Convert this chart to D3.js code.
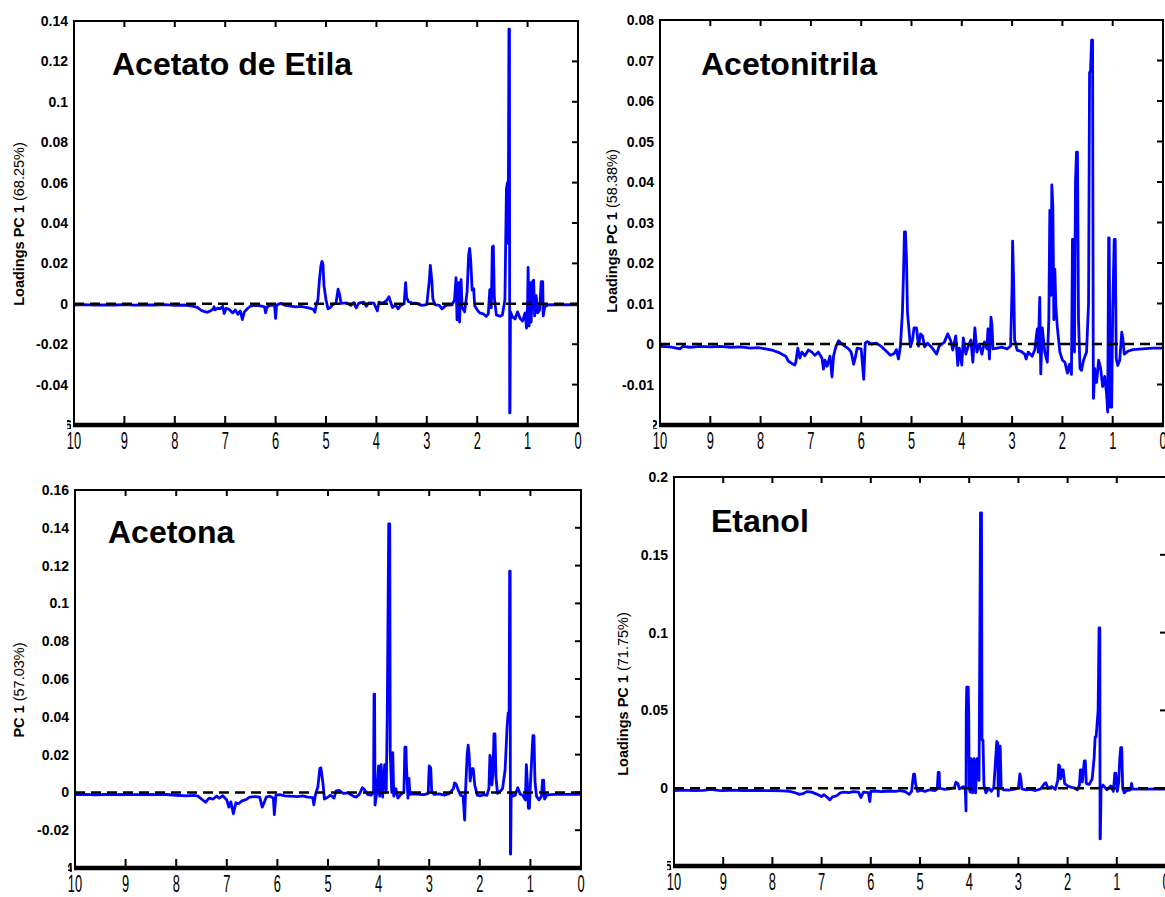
<!DOCTYPE html>
<html>
<head>
<meta charset="utf-8">
<script src="https://cdn.jsdelivr.net/npm/d3@7"></script>
<style>
  body { margin: 0; background: #fff; }
  svg { display: block; font-family: Arial, "Liberation Sans", sans-serif; }
</style>
</head>
<body>
<div id="chart"></div>
<script>
// ppm axis ticks (shared)
const ppmTicks = [10, 9, 8, 7, 6, 5, 4, 3, 2, 1, 0]

// PC1 loadings, [ppm, loading]
const acetatoLoadings = [
  [10,-0.0006],[9.8,-0.0004],[9.6,-0.0007],[9.4,-0.0005],[9.2,-0.0006],[9.0,-0.0004],[8.8,-0.0007],[8.6,-0.0005],
  [8.4,-0.0006],[8.2,-0.0004],[8.0,-0.0008],[7.8,-0.0006],[7.65,-0.0012],[7.55,-0.0018],[7.48,-0.0032],[7.42,-0.0038],
  [7.35,-0.0042],[7.3,-0.0036],[7.25,-0.0028],[7.22,-0.0015],[7.2,-0.003],[7.15,-0.0022],[7.1,-0.0024],[7.05,-0.0012],
  [7.02,-0.0048],[6.98,-0.0022],[6.92,-0.0028],[6.85,-0.0045],[6.8,-0.003],[6.75,-0.0052],[6.7,-0.0035],[6.66,-0.0078],
  [6.62,-0.004],[6.55,-0.0022],[6.5,-0.0012],[6.42,-0.0008],[6.3,-0.001],[6.22,-0.0015],[6.2,-0.0045],[6.17,-0.0016],
  [6.1,-0.0006],[6.02,-0.0008],[6.0,-0.0072],[5.98,-0.0006],[5.9,0.0002],[5.8,-0.0008],[5.7,-0.0012],[5.6,-0.0015],
  [5.5,-0.0013],[5.4,-0.0018],[5.32,-0.0022],[5.25,-0.0028],[5.22,-0.0042],[5.2,-0.0012],[5.16,0.002],[5.13,0.012],
  [5.1,0.019],[5.08,0.021],[5.06,0.0195],[5.04,0.009],[5.0,0.002],[4.96,-0.0025],[4.92,-0.002],[4.88,-0.0008],
  [4.8,0.0005],[4.76,0.0072],[4.73,0.0045],[4.7,0.0002],[4.6,0.0005],[4.5,-0.0008],[4.45,0.0006],[4.4,-0.002],
  [4.35,0.0003],[4.25,0.0008],[4.2,-0.0012],[4.15,0.0004],[4.05,0.0003],[3.98,-0.0035],[3.95,0.0008],[3.88,0.0002],
  [3.8,0.0015],[3.75,0.0035],[3.72,0.001],[3.68,-0.0018],[3.62,-0.0005],[3.57,-0.0025],[3.52,-0.0008],[3.45,0.0],
  [3.42,0.0105],[3.4,0.003],[3.36,0.001],[3.3,0.0005],[3.2,0.0002],[3.1,-0.0008],[3.0,-0.0004],[2.95,0.0115],
  [2.93,0.019],[2.9,0.0115],[2.88,0.0025],[2.84,-0.0004],[2.75,-0.0008],[2.7,-0.0025],[2.62,-0.0008],[2.5,-0.0005],
  [2.45,0.002],[2.42,0.013],[2.4,-0.008],[2.37,0.0105],[2.35,-0.009],[2.32,0.012],[2.3,-0.0015],[2.25,-0.004],
  [2.2,0.006],[2.17,0.024],[2.15,0.0274],[2.13,0.022],[2.1,0.0068],[2.07,0.0075],[2.05,-0.001],[2.0,-0.003],
  [1.95,-0.0045],[1.88,-0.005],[1.82,-0.0062],[1.78,-0.005],[1.75,0.007],[1.72,-0.002],[1.7,0.028],[1.68,0.0286],
  [1.66,0.003],[1.62,-0.0055],[1.55,-0.0062],[1.5,-0.0055],[1.45,0.002],[1.42,0.057],[1.4,0.06],[1.39,0.03],
  [1.38,0.065],[1.37,0.136],[1.36,0.136],[1.355,-0.054],[1.35,-0.054],[1.34,-0.004],[1.3,-0.0065],[1.25,-0.0075],
  [1.2,-0.004],[1.15,-0.0072],[1.1,-0.0085],[1.05,-0.0045],[1.02,-0.012],[1.0,0.0],[0.99,0.018],[0.97,-0.011],
  [0.95,0.0105],[0.93,-0.009],[0.9,0.011],[0.88,0.0117],[0.86,-0.006],[0.83,0.004],[0.8,-0.0045],[0.76,-0.003],
  [0.73,0.011],[0.7,0.011],[0.69,-0.006],[0.66,-0.0015],[0.6,-0.0006],[0.5,-0.0004],[0.4,-0.0005],[0.2,-0.0004],[0,-0.0005]
]

const acetonitrilaLoadings = [
  [10,-0.0006],[9.8,-0.0007],[9.6,-0.0012],[9.55,-0.0006],[9.4,-0.0008],[9.2,-0.0006],[9.0,-0.0007],[8.8,-0.0006],
  [8.6,-0.0008],[8.4,-0.0007],[8.2,-0.001],[8.05,-0.0009],[7.9,-0.0012],[7.75,-0.0016],[7.62,-0.0022],[7.5,-0.003],
  [7.45,-0.0042],[7.38,-0.0048],[7.32,-0.0052],[7.3,-0.0045],[7.26,-0.001],[7.22,-0.0035],[7.18,-0.002],[7.12,-0.0029],
  [7.05,-0.0015],[6.98,-0.002],[6.92,-0.0028],[6.85,-0.002],[6.78,-0.0035],[6.75,-0.0062],[6.72,-0.004],[6.68,-0.0055],
  [6.62,-0.003],[6.58,-0.0081],[6.55,-0.003],[6.5,-0.0005],[6.45,0.0008],[6.4,0.0002],[6.32,-0.0006],[6.25,-0.0012],
  [6.2,-0.002],[6.15,-0.005],[6.12,-0.0035],[6.08,-0.001],[6.0,-0.0012],[5.95,-0.0087],[5.92,0.0002],[5.88,0.0006],
  [5.8,0.0],[5.7,0.0002],[5.6,-0.0006],[5.5,-0.0018],[5.42,-0.0028],[5.35,-0.0024],[5.3,-0.0014],[5.26,-0.0037],
  [5.22,-0.0005],[5.18,0.008],[5.16,0.0168],[5.14,0.0277],[5.12,0.0277],[5.1,0.021],[5.08,0.0078],[5.05,0.0035],
  [5.02,-0.0007],[4.98,0.001],[4.95,0.004],[4.9,0.004],[4.86,-0.0005],[4.82,0.0025],[4.78,0.002],[4.74,-0.0007],
  [4.68,0.0002],[4.6,-0.0008],[4.5,-0.0025],[4.45,-0.0005],[4.35,0.0004],[4.28,0.0025],[4.22,0.0008],[4.18,-0.0015],
  [4.12,0.002],[4.08,-0.0053],[4.05,-0.001],[4.0,-0.0052],[3.97,0.0015],[3.92,-0.0025],[3.88,-0.0008],[3.82,0.001],
  [3.78,-0.0045],[3.74,0.004],[3.7,-0.002],[3.65,0.0],[3.6,-0.0025],[3.55,0.0005],[3.5,-0.0012],[3.48,0.0037],
  [3.45,-0.0037],[3.42,0.0066],[3.4,0.0045],[3.38,-0.0012],[3.3,-0.001],[3.2,-0.0008],[3.1,-0.0012],[3.03,-0.0005],
  [3.0,0.014],[2.99,0.0254],[2.97,0.016],[2.95,0.001],[2.9,-0.0015],[2.82,-0.0018],[2.75,-0.0025],[2.72,-0.0037],
  [2.68,-0.002],[2.6,-0.003],[2.55,-0.0015],[2.5,0.0037],[2.48,-0.002],[2.45,0.0115],[2.43,-0.0074],[2.4,0.004],
  [2.35,-0.002],[2.3,-0.0045],[2.27,0.006],[2.25,0.033],[2.23,0.012],[2.21,0.0393],[2.19,0.034],[2.17,0.006],
  [2.15,0.0184],[2.13,0.0094],[2.1,0.004],[2.05,-0.002],[2.0,-0.004],[1.95,-0.0045],[1.9,-0.0072],[1.86,-0.005],
  [1.82,-0.0075],[1.8,0.0258],[1.78,0.0258],[1.76,-0.002],[1.74,0.04],[1.72,0.0474],[1.7,0.0474],[1.68,0.006],
  [1.65,-0.006],[1.62,-0.0065],[1.58,-0.004],[1.52,-0.002],[1.48,0.01],[1.46,0.067],[1.44,0.0675],[1.42,0.075],
  [1.4,0.075],[1.39,0.015],[1.385,-0.0134],[1.38,-0.0134],[1.36,-0.006],[1.32,-0.0095],[1.28,-0.004],[1.24,-0.006],
  [1.2,-0.0105],[1.16,-0.008],[1.12,-0.0125],[1.1,-0.0168],[1.08,0.0262],[1.07,0.0262],[1.05,-0.0156],[1.02,-0.0156],
  [1.0,0.008],[0.97,0.0258],[0.95,0.0258],[0.93,-0.0035],[0.9,-0.0053],[0.86,-0.004],[0.82,0.0029],[0.8,0.0015],
  [0.77,-0.0025],[0.7,-0.0018],[0.6,-0.0014],[0.4,-0.0012],[0.2,-0.001],[0,-0.001]
]

const acetonaLoadings = [
  [10,-0.0012],[9.8,-0.001],[9.6,-0.0013],[9.4,-0.0011],[9.2,-0.0012],[9.0,-0.001],[8.8,-0.0012],[8.6,-0.001],
  [8.4,-0.0012],[8.2,-0.0011],[8.0,-0.0015],[7.8,-0.0018],[7.65,-0.0016],[7.57,-0.002],[7.5,-0.0035],[7.42,-0.0052],
  [7.35,-0.003],[7.27,-0.0035],[7.2,-0.002],[7.15,-0.003],[7.08,-0.0018],[7.0,-0.004],[6.96,-0.0078],[6.92,-0.005],
  [6.87,-0.0113],[6.82,-0.0055],[6.77,-0.006],[6.7,-0.0045],[6.62,-0.0038],[6.55,-0.0025],[6.45,-0.0022],[6.35,-0.0025],
  [6.3,-0.0078],[6.27,-0.006],[6.22,-0.0025],[6.15,-0.002],[6.08,-0.003],[6.06,-0.0118],[6.03,-0.0015],[5.95,-0.0012],
  [5.85,-0.0018],[5.75,-0.002],[5.6,-0.0022],[5.5,-0.0018],[5.4,-0.0025],[5.3,-0.0028],[5.28,-0.0066],[5.25,-0.0015],
  [5.2,0.003],[5.16,0.0128],[5.14,0.013],[5.1,0.005],[5.07,-0.0035],[5.0,-0.0025],[4.95,-0.0015],[4.88,-0.003],
  [4.84,0.0008],[4.78,0.001],[4.7,-0.0005],[4.6,-0.0003],[4.5,-0.002],[4.45,-0.0025],[4.38,-0.001],[4.32,0.0025],
  [4.28,0.0015],[4.22,-0.001],[4.15,-0.0015],[4.1,0.0],[4.09,0.052],[4.08,0.052],[4.07,-0.0067],[4.03,0.001],
  [4.0,0.014],[3.98,-0.002],[3.95,0.0147],[3.92,-0.0025],[3.88,0.0147],[3.85,0.0],[3.83,0.038],[3.8,0.142],
  [3.78,0.142],[3.77,0.021],[3.74,0.0],[3.72,0.021],[3.7,-0.002],[3.66,0.002],[3.62,-0.003],[3.56,-0.001],
  [3.5,0.0],[3.48,0.024],[3.46,0.024],[3.45,0.0144],[3.42,-0.003],[3.4,0.0074],[3.38,-0.001],[3.3,-0.0008],
  [3.2,-0.001],[3.1,-0.0012],[3.02,-0.0005],[3.0,0.014],[2.97,0.013],[2.95,0.0],[2.9,-0.001],[2.8,-0.0008],
  [2.7,-0.0015],[2.6,-0.0005],[2.52,0.002],[2.5,0.005],[2.47,0.0045],[2.43,0.0015],[2.38,-0.0015],[2.33,-0.002],
  [2.3,-0.0146],[2.28,0.002],[2.25,0.02],[2.23,0.025],[2.21,0.0196],[2.19,0.006],[2.16,0.0126],[2.13,0.0126],
  [2.1,0.004],[2.05,-0.0014],[2.0,-0.0018],[1.92,-0.0012],[1.86,-0.0016],[1.82,0.002],[1.8,0.0196],[1.78,0.017],
  [1.76,0.004],[1.74,0.01],[1.72,0.031],[1.7,0.031],[1.68,0.008],[1.65,-0.0005],[1.6,0.0005],[1.55,0.002],
  [1.5,0.012],[1.46,0.035],[1.44,0.042],[1.42,0.042],[1.41,0.117],[1.4,0.117],[1.395,-0.0326],[1.39,-0.0326],
  [1.38,0.0],[1.35,-0.002],[1.3,-0.0015],[1.25,0.0025],[1.2,-0.001],[1.15,-0.0015],[1.1,-0.004],[1.08,0.0147],
  [1.06,0.005],[1.04,-0.0084],[1.02,-0.0084],[1.0,0.004],[0.97,0.02],[0.95,0.03],[0.93,0.03],[0.91,0.006],
  [0.88,-0.002],[0.83,-0.004],[0.78,-0.002],[0.76,0.0065],[0.74,0.0065],[0.72,-0.0035],[0.68,-0.0015],[0.6,-0.0012],
  [0.5,-0.001],[0.3,-0.001],[0.1,-0.0009],[0,-0.001]
]

const etanolLoadings = [
  [10,-0.0015],[9.8,-0.0012],[9.6,-0.0016],[9.4,-0.0014],[9.25,-0.0008],[9.1,-0.0014],[9.0,-0.0016],[8.8,-0.0013],
  [8.6,-0.0015],[8.4,-0.0014],[8.2,-0.0016],[8.0,-0.0015],[7.8,-0.0017],[7.65,-0.002],[7.55,-0.0028],[7.45,-0.004],
  [7.38,-0.0035],[7.3,-0.0022],[7.2,-0.0025],[7.1,-0.0038],[7.0,-0.0054],[6.95,-0.0042],[6.88,-0.006],[6.83,-0.0075],
  [6.78,-0.0055],[6.7,-0.005],[6.62,-0.003],[6.55,-0.0025],[6.45,-0.0028],[6.35,-0.0022],[6.25,-0.0025],[6.2,-0.006],
  [6.15,-0.0025],[6.05,-0.0028],[6.02,-0.0086],[6.0,-0.002],[5.9,-0.0018],[5.8,-0.0022],[5.7,-0.002],[5.6,-0.0018],
  [5.5,-0.002],[5.4,-0.0015],[5.3,-0.0022],[5.22,-0.004],[5.17,-0.002],[5.15,0.004],[5.13,0.009],[5.11,0.009],
  [5.09,0.003],[5.05,-0.002],[4.98,-0.0012],[4.9,-0.002],[4.8,-0.001],[4.7,-0.0015],[4.65,-0.0005],[4.63,0.0101],
  [4.61,0.0101],[4.6,0.0],[4.5,-0.0008],[4.4,-0.0005],[4.3,0.0005],[4.27,0.0039],[4.23,0.003],[4.2,-0.0005],
  [4.12,0.001],[4.08,0.0],[4.065,-0.0146],[4.06,0.048],[4.05,0.065],[4.02,0.065],[4.01,0.049],[4.0,0.0],
  [3.98,-0.0025],[3.96,0.019],[3.93,-0.003],[3.9,0.019],[3.87,-0.003],[3.84,0.019],[3.82,0.019],[3.8,0.005],
  [3.77,0.177],[3.75,0.177],[3.74,0.031],[3.72,0.031],[3.7,0.002],[3.66,-0.003],[3.6,0.0],[3.55,-0.002],
  [3.5,0.0005],[3.46,0.02],[3.44,0.03],[3.42,0.029],[3.41,-0.005],[3.39,0.027],[3.37,0.027],[3.35,0.0],
  [3.3,-0.001],[3.2,-0.0012],[3.1,-0.0008],[3.0,0.0],[2.97,0.0092],[2.95,0.006],[2.93,-0.0005],[2.85,-0.001],
  [2.75,-0.0008],[2.65,-0.0015],[2.55,-0.0005],[2.47,0.003],[2.44,0.0034],[2.4,0.0],[2.32,0.001],[2.25,-0.0008],
  [2.2,0.005],[2.18,0.015],[2.16,0.014],[2.14,0.006],[2.11,0.0118],[2.09,0.0118],[2.06,0.003],[2.0,0.0015],
  [1.92,0.0005],[1.85,0.0],[1.8,-0.001],[1.76,0.002],[1.74,0.0118],[1.72,0.0118],[1.7,0.004],[1.66,0.0176],
  [1.64,0.0176],[1.62,0.003],[1.56,0.0025],[1.5,0.006],[1.46,0.02],[1.44,0.033],[1.42,0.033],[1.38,0.05],
  [1.36,0.103],[1.345,0.103],[1.34,-0.0326],[1.335,-0.0326],[1.32,0.0],[1.28,0.002],[1.2,-0.001],[1.12,0.0015],
  [1.07,-0.002],[1.04,0.0097],[1.02,0.0097],[0.99,-0.002],[0.96,0.004],[0.94,0.019],[0.92,0.026],[0.9,0.026],
  [0.88,0.0],[0.85,-0.003],[0.8,-0.0015],[0.72,-0.001],[0.7,0.003],[0.68,-0.0005],[0.6,-0.0006],[0.4,-0.0006],
  [0.2,-0.0005],[0,-0.0005]
]

// y tick values per panel
const acetatoTicks = [-0.04, -0.02, 0, 0.02, 0.04, 0.06, 0.08, 0.1, 0.12, 0.14]
const acetonitrilaTicks = [-0.01, 0, 0.01, 0.02, 0.03, 0.04, 0.05, 0.06, 0.07, 0.08]
const acetonaTicks = [-0.02, 0, 0.02, 0.04, 0.06, 0.08, 0.1, 0.12, 0.14, 0.16]
const etanolTicks = [0, 0.05, 0.1, 0.15, 0.2]

const titles = ["Acetato de Etila", "Acetonitrila", "Acetona", "Etanol"]
const yLabels = [
  ["Loadings  PC 1 ", "(68.25%)"],
  ["Loadings PC 1 ", "(58.38%)"],
  ["PC 1 ", "(57.03%)"],
  ["Loadings PC 1 ", "(71.75%)"]
]

const W = 1165, H = 897

const svg = d3.select("#chart").append("svg")
  .attr("width", W)
  .attr("height", H)

// panel frames and text placement
const panels = [
  { data: acetatoLoadings, ticks: acetatoTicks, yDomain: [-0.06, 0.14], hidden: "-0.06",
    left: 74, right: 578, top: 21, bottom: 425, title: [112, 75], ylab: [24, 224] },
  { data: acetonitrilaLoadings, ticks: acetonitrilaTicks, yDomain: [-0.02, 0.08], hidden: "-0.02",
    left: 660, right: 1163, top: 20, bottom: 425, title: [701, 75], ylab: [617, 231] },
  { data: acetonaLoadings, ticks: acetonaTicks, yDomain: [-0.04, 0.16], hidden: "-0.04",
    left: 75, right: 581, top: 490, bottom: 868, title: [108, 543], ylab: [24, 690] },
  { data: etanolLoadings, ticks: etanolTicks, yDomain: [-0.05, 0.2], hidden: "-0.05",
    left: 674, right: 1166, top: 477, bottom: 866, title: [711, 532], ylab: [628, 694] }
]

const fmt = v => String(+v.toFixed(3))

panels.forEach((p, i) => {
  const x = d3.scaleLinear().domain([10, 0]).range([p.left, p.right])
  const y = d3.scaleLinear().domain(p.yDomain).range([p.bottom, p.top])
  const g = svg.append("g")

  g.append("clipPath").attr("id", `clip${i}`)
    .append("rect")
    .attr("x", p.left).attr("y", p.top)
    .attr("width", p.right - p.left).attr("height", p.bottom - p.top)

  // spectrum
  const line = d3.line().x(d => x(d[0])).y(d => y(d[1]))
  g.append("path")
    .datum(p.data)
    .attr("clip-path", `url(#clip${i})`)
    .attr("fill", "none")
    .attr("stroke", "#0000ff")
    .attr("stroke-width", 2.8)
    .attr("stroke-linejoin", "round")
    .attr("d", line)

  // dashed zero line
  g.append("line")
    .attr("x1", p.left).attr("x2", p.right)
    .attr("y1", y(0)).attr("y2", y(0))
    .attr("stroke", "#000")
    .attr("stroke-width", 2.5)
    .attr("stroke-dasharray", "10,6")

  // frame: left, top, right
  g.append("path")
    .attr("d", `M${p.left},${p.bottom - 4}V${p.top}H${p.right}V${p.bottom}`)
    .attr("fill", "none")
    .attr("stroke", "#000")
    .attr("stroke-width", 2)

  // thick x axis
  g.append("line")
    .attr("x1", p.left - 1).attr("x2", p.right + 1)
    .attr("y1", p.bottom).attr("y2", p.bottom)
    .attr("stroke", "#000")
    .attr("stroke-width", 4.5)

  // x ticks (bottom, pointing up; top, pointing down)
  g.selectAll(".xtb").data(ppmTicks).join("line")
    .attr("x1", d => x(d)).attr("x2", d => x(d))
    .attr("y1", p.bottom).attr("y2", p.bottom - 9)
    .attr("stroke", "#000").attr("stroke-width", 2)
  g.selectAll(".xtt").data(ppmTicks.slice(1, -1)).join("line")
    .attr("x1", d => x(d)).attr("x2", d => x(d))
    .attr("y1", p.top).attr("y2", p.top + 6)
    .attr("stroke", "#000").attr("stroke-width", 2)

  // right-side y ticks
  g.selectAll(".ytr").data(p.ticks.filter(t => t !== p.yDomain[1])).join("line")
    .attr("x1", p.right).attr("x2", p.right - 6)
    .attr("y1", d => y(d)).attr("y2", d => y(d))
    .attr("stroke", "#000").attr("stroke-width", 2)

  // x tick labels (condensed)
  g.selectAll(".xl").data(ppmTicks).join("text")
    .attr("transform", d => `translate(${x(d)},${p.bottom + 24}) scale(0.56,1)`)
    .attr("text-anchor", "middle")
    .attr("font-size", 23)
    .attr("fill", "#000")
    .text(d => d)

  // y tick labels
  g.selectAll(".yl").data(p.ticks).join("text")
    .attr("x", p.left - 6)
    .attr("y", d => y(d))
    .attr("dy", "0.36em")
    .attr("text-anchor", "end")
    .attr("font-size", 14)
    .attr("font-weight", "bold")
    .attr("fill", "#000")
    .text(fmt)

  // bottom label mostly hidden behind the axis corner
  g.append("clipPath").attr("id", `cliph${i}`)
    .append("rect")
    .attr("x", p.left - 7).attr("y", p.bottom - 10)
    .attr("width", 4).attr("height", 14)
  g.append("text")
    .attr("clip-path", `url(#cliph${i})`)
    .attr("x", p.left - 2)
    .attr("y", p.bottom)
    .attr("dy", "0.36em")
    .attr("text-anchor", "end")
    .attr("font-size", 14)
    .attr("font-weight", "bold")
    .text(p.hidden)

  // title
  g.append("text")
    .attr("x", p.title[0]).attr("y", p.title[1])
    .attr("font-size", 32)
    .attr("font-weight", "bold")
    .attr("fill", "#000")
    .text(titles[i])

  // y axis label
  const yl = g.append("text")
    .attr("transform", `translate(${p.ylab[0]},${p.ylab[1]}) rotate(-90)`)
    .attr("text-anchor", "middle")
    .attr("font-size", 14.5)
    .attr("fill", "#000")
  yl.append("tspan").attr("font-weight", "bold").text(yLabels[i][0])
  yl.append("tspan").text(yLabels[i][1])
})
</script>
</body>
</html>
